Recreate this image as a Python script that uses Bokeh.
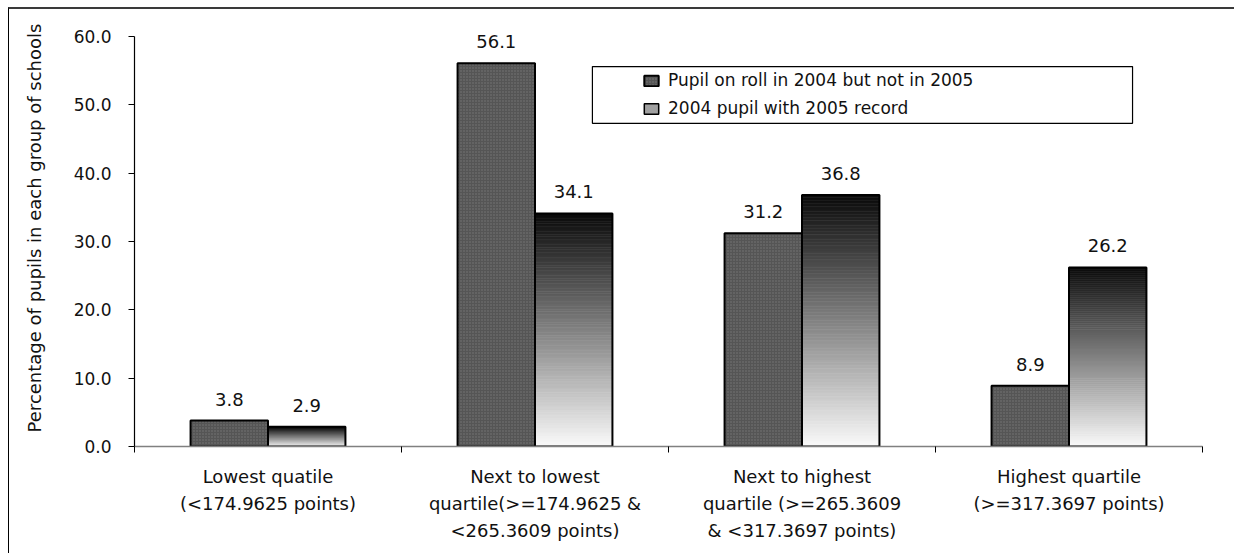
from bokeh.plotting import figure
from bokeh.models import (Range1d, FixedTicker, SingleIntervalTicker, PrintfTickFormatter,
                          ColumnDataSource, Legend, LegendItem, BoxAnnotation)
from bokeh.core.properties import value
from bokeh.embed import file_html
from bokeh.resources import INLINE

# ---------------- data ----------------
categories = [
    "Lowest quatile\n(<174.9625 points)",
    "Next to lowest\nquartile(>=174.9625 &\n<265.3609 points)",
    "Next to highest\nquartile (>=265.3609\n& <317.3697 points)",
    "Highest quartile\n(>=317.3697 points)",
]
series_names = ["Pupil on roll in 2004 but not in 2005", "2004 pupil with 2005 record"]
not_in_2005 = [3.8, 56.1, 31.2, 8.9]
with_2005_record = [2.9, 34.1, 36.8, 26.2]
y_axis_max = 60
y_ticks_interval = 10

FONT = "DejaVu Sans"
BAR_W = 0.29
OFF = 0.145
N_SLICES = 90
AXIS_PX = 410      # pixel height of the 0..60 axis
HEADROOM_PX = 27   # room above the axis top, inside the frame, for value labels
y_end = y_axis_max * (1 + HEADROOM_PX / AXIS_PX)

p = figure(width=1226, height=546, output_backend="svg", toolbar_location=None,
           x_range=Range1d(0, len(categories)), y_range=Range1d(0, y_end),
           min_border_left=125, min_border_right=33, min_border_top=0, min_border_bottom=109,
           outline_line_color=None, background_fill_color="white", border_fill_color="white",
           styles={"margin-left": "8px", "margin-top": "7px",
                   "border-left": "1px solid #000000", "border-top": "2px solid #3a3a3a"})
p.grid.visible = False

# ---------------- series 1 (stippled dark grey) ----------------
x1 = [i + 0.5 - OFF for i in range(len(categories))]
x2 = [i + 0.5 + OFF for i in range(len(categories))]
src1 = ColumnDataSource(dict(left=[x - BAR_W / 2 for x in x1], right=[x + BAR_W / 2 for x in x1],
                             top=not_in_2005, bottom=[0] * len(not_in_2005)))
r1 = p.quad(left="left", right="right", top="top", bottom="bottom", source=src1,
            fill_color="#555555", hatch_pattern="dot", hatch_color="#767676", hatch_scale=3,
            hatch_weight=1, line_color="black", line_width=2)

# ---------------- series 2 (vertical gradient black -> white) ----------------
gl, gr, gt, gb, gc = [], [], [], [], []
for x, v in zip(x2, with_2005_record):
    for k in range(N_SLICES):
        t = (k + 0.5) / N_SLICES
        g = int(round(250 - (250 - 10) * t))
        gl.append(x - BAR_W / 2)
        gr.append(x + BAR_W / 2)
        gb.append(v * k / N_SLICES)
        gt.append(v * (k + 1) / N_SLICES)
        gc.append("#%02x%02x%02x" % (g, g, g))
gsrc = ColumnDataSource(dict(left=gl, right=gr, top=gt, bottom=gb, color=gc))
p.quad(left="left", right="right", top="top", bottom="bottom", source=gsrc,
       fill_color="color", line_color="color", line_width=0.6)
src2 = ColumnDataSource(dict(left=[x - BAR_W / 2 for x in x2], right=[x + BAR_W / 2 for x in x2],
                             top=with_2005_record, bottom=[0] * len(with_2005_record)))
p.quad(left="left", right="right", top="top", bottom="bottom", source=src2,
       fill_color=None, line_color="black", line_width=2)

# hidden legend proxy for the gradient series
r2 = p.quad(left="left", right="right", top="top", bottom="bottom", source=src2,
            fill_color="#a0a0a0", line_color="black", line_width=1.5, visible=False)

# ---------------- value labels ----------------
lab = ColumnDataSource(dict(x=x1 + x2, y=not_in_2005 + with_2005_record,
                            t=["%.1f" % v for v in not_in_2005 + with_2005_record]))
p.text(x="x", y="y", text="t", source=lab, text_align="center", text_baseline="bottom",
       y_offset=-15, text_font=value(FONT), text_font_size="18px", text_color="#111111")

# ---------------- axes ----------------
xa = p.xaxis[0]
xa.ticker = FixedTicker(ticks=[i + 0.5 for i in range(len(categories))],
                        minor_ticks=list(range(len(categories) + 1)))
xa.major_label_overrides = {i + 0.5: c for i, c in enumerate(categories)}
xa.major_tick_line_color = None
xa.major_tick_out = 6
xa.major_tick_in = 0
xa.minor_tick_line_color = "black"
xa.minor_tick_out = 6
xa.minor_tick_in = 0
xa.axis_line_color = "#808080"
xa.axis_line_width = 1.5
xa.major_label_standoff = 13
xa.major_label_text_font = FONT
xa.major_label_text_font_size = "18px"
xa.major_label_text_line_height = 1.3
xa.major_label_text_color = "#111111"

ya = p.yaxis[0]
ya.bounds = (0, y_axis_max)
ya.ticker = SingleIntervalTicker(interval=y_ticks_interval)
ya.formatter = PrintfTickFormatter(format="%.1f")
ya.minor_tick_line_color = None
ya.major_tick_in = 0
ya.major_tick_out = 6
ya.major_tick_line_color = "black"
ya.axis_line_color = "black"
ya.axis_line_width = 1.2
ya.major_label_standoff = 17
ya.major_label_text_font = FONT
ya.major_label_text_font_size = "17px"
ya.major_label_text_color = "#111111"
ya.axis_label = "Percentage of pupils in each group of schools"
ya.axis_label_text_font = FONT
ya.axis_label_text_font_size = "18px"
ya.axis_label_text_font_style = "normal"
ya.axis_label_text_color = "#111111"
ya.axis_label_standoff = 26

# ---------------- legend ----------------
box = BoxAnnotation(left=1.715, right=3.738, top=55.6, bottom=47.3,
                    fill_color="white", fill_alpha=1, line_color="black", line_alpha=1,
                    line_width=1.2, level="overlay")
p.add_layout(box)
legend = Legend(items=[LegendItem(label=series_names[0], renderers=[r1]),
                       LegendItem(label=series_names[1], renderers=[r2])],
                location=(508, 328), padding=0, margin=0, spacing=8,
                glyph_width=18, glyph_height=13, label_height=20, label_standoff=8,
                border_line_color=None, background_fill_alpha=0,
                inactive_fill_alpha=0,
                label_text_font=FONT, label_text_font_size="17px", label_text_color="#111111")
p.add_layout(legend)

open("out.html", "w").write(file_html(p, INLINE))
